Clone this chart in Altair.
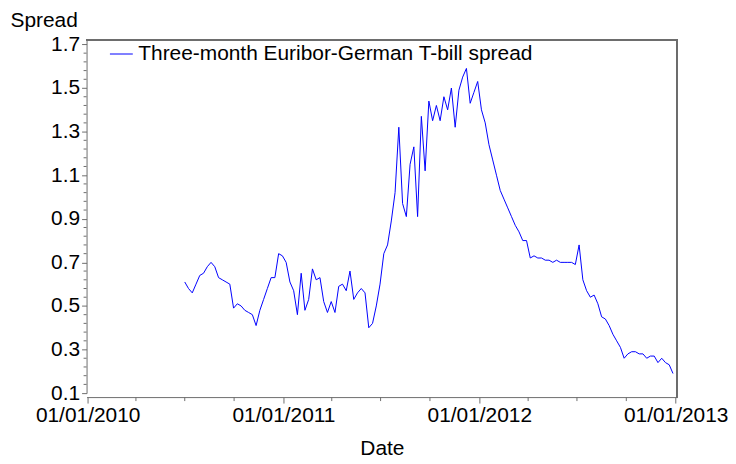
import altair as alt
import pandas as pd

# Weekly readings (Thursdays) from 2010-07-01 to 2012-12-27
START = "2010-07-01"
N_WEEKS = 131
SPREAD = [
    0.61, 0.58, 0.56, 0.60, 0.64, 0.65, 0.68, 0.70, 0.68, 0.63,
    0.62, 0.61, 0.60, 0.49, 0.51, 0.50, 0.48, 0.47, 0.46, 0.41,
    0.48, 0.53, 0.58, 0.63, 0.63, 0.74, 0.73, 0.70, 0.61, 0.57,
    0.46, 0.65, 0.48, 0.53, 0.67, 0.62, 0.63, 0.52, 0.47, 0.52,
    0.47, 0.59, 0.60, 0.57, 0.66, 0.53, 0.56, 0.58, 0.56, 0.40,
    0.42, 0.50, 0.60, 0.74, 0.78, 0.89, 1.02, 1.32, 0.97, 0.91,
    1.15, 1.23, 0.91, 1.37, 1.12, 1.44, 1.35, 1.42, 1.35, 1.46,
    1.40, 1.50, 1.32, 1.49, 1.55, 1.59, 1.43, 1.48, 1.53, 1.40,
    1.34, 1.24, 1.17, 1.10, 1.03, 0.99, 0.95, 0.91, 0.87, 0.84,
    0.80, 0.80, 0.72, 0.73, 0.72, 0.72, 0.71, 0.71, 0.70, 0.71,
    0.70, 0.70, 0.70, 0.70, 0.69, 0.78, 0.62, 0.57, 0.54, 0.55,
    0.51, 0.45, 0.44, 0.41, 0.37, 0.34, 0.31, 0.26, 0.28, 0.29,
    0.29, 0.28, 0.28, 0.26, 0.27, 0.27, 0.24, 0.26, 0.24, 0.23,
    0.19,
]
SERIES_NAME = "Three-month Euribor-German T-bill spread"

Y_TICKS = [0.1, 0.3, 0.5, 0.7, 0.9, 1.1, 1.3, 1.5, 1.7]
Y_MINOR = [round(0.1 + 0.04 * k, 2) for k in range(1, 41) if k % 5 != 0]
X_TICK_YEARS = [2010, 2011, 2012, 2013]
X_MINOR = ["2010-04-01", "2010-07-01", "2010-10-01",
           "2011-04-01", "2011-07-01", "2011-10-01",
           "2012-04-01", "2012-07-01", "2012-10-01"]

dates = pd.date_range(START, periods=N_WEEKS, freq="7D").strftime("%Y-%m-%d")
df = pd.DataFrame({"Date": dates, "Spread": SPREAD, "series": SERIES_NAME})

W, H = 594, 355
GRAY = "#6e6e6e"
FONT = "Liberation Sans"

x_scale = alt.Scale(
    type="utc",
    domain=[alt.DateTime(year=2009, month=12, date=30, utc=True),
            alt.DateTime(year=2013, month=1, date=4, utc=True)],
)
y_scale = alt.Scale(domain=[0.1, 1.72], nice=False, zero=False)

line = alt.Chart(df).mark_line(strokeWidth=1, clip=True).encode(
    x=alt.X(
        "Date:T",
        scale=x_scale,
        axis=alt.Axis(
            title="Date",
            values=[alt.DateTime(year=yy, month=1, date=1, utc=True) for yy in X_TICK_YEARS],
            format="%m/%d/%Y",
            grid=False,
            offset=4,
            tickSize=6,
            labelPadding=2,
            labelOverlap=False,
            labelBound=False,
            labelFlush=False,
            titleY=52,
            titleBaseline="middle",
            titlePadding=0,
        ),
    ),
    y=alt.Y(
        "Spread:Q",
        scale=y_scale,
        axis=alt.Axis(
            title="Spread",
            values=Y_TICKS,
            format=".1f",
            grid=False,
            tickSize=5,
            labelPadding=2,
            titleAngle=0,
            titleAlign="left",
            titleBaseline="middle",
            titleX=-77,
            titleY=-20,
        ),
    ),
    color=alt.Color(
        "series:N",
        scale=alt.Scale(range=["#0000ff"]),
        legend=alt.Legend(
            title=None,
            orient="none",
            legendX=23,
            legendY=2,
            padding=0,
            symbolType="stroke",
            symbolSize=529,
            symbolStrokeWidth=1,
            labelFontSize=21,
            labelOffset=5,
            labelColor="#000000",
            labelLimit=600,
        ),
    ),
)

frame_top = alt.Chart(df).mark_rule(color=GRAY, strokeWidth=1).encode(
    x=alt.value(0), x2=alt.value(W), y=alt.value(0)
)
frame_right = alt.Chart(df).mark_rule(color=GRAY, strokeWidth=1).encode(
    x=alt.value(W), y=alt.value(0), y2=alt.value(H + 4)
)

ymin_df = pd.DataFrame({"v": Y_MINOR})
y_minor = alt.Chart(ymin_df).mark_rule(color=GRAY, strokeWidth=1).encode(
    y=alt.Y("v:Q", scale=y_scale), x=alt.value(-3), x2=alt.value(0)
)
xmin_df = pd.DataFrame({"d": X_MINOR})
x_minor = alt.Chart(xmin_df).mark_rule(color=GRAY, strokeWidth=1).encode(
    x=alt.X("d:T", scale=x_scale), y=alt.value(H + 4), y2=alt.value(H + 8)
)

chart = alt.layer(line, frame_top, frame_right, y_minor, x_minor).properties(
    width=W,
    height=H,
    autosize=alt.AutoSizeParams(type="none"),
    padding={"left": 79, "top": 31, "right": 51, "bottom": 66},
).configure(
    font=FONT,
).configure_view(
    stroke=None,
).configure_axis(
    domainColor=GRAY,
    tickColor=GRAY,
    labelColor="#000000",
    titleColor="#000000",
    labelFontSize=21,
    titleFontSize=21,
    titleFontWeight="normal",
    labelFont=FONT,
    titleFont=FONT,
).configure_legend(
    labelFont=FONT,
)

chart.save("out.html", embed_options={"renderer": "svg", "actions": False})
